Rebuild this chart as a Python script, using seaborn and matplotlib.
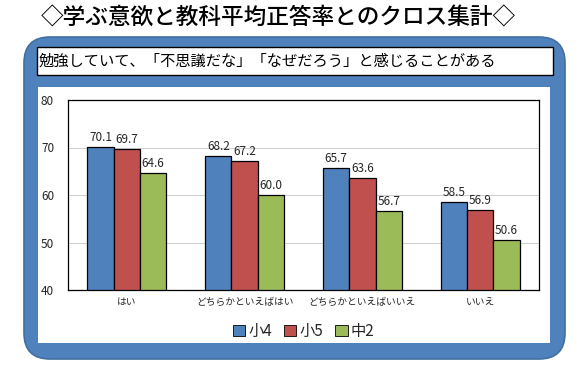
import matplotlib
matplotlib.use('AGG')
import matplotlib.pyplot as plt
from matplotlib.patches import FancyBboxPatch, Rectangle
import seaborn as sns
import pandas as pd
import numpy as np

# data
categories = ['はい', 'どちらかといえばはい', 'どちらかといえばいいえ', 'いいえ']
groups = ['小4', '小5', '中2']
sho4 = [70.1, 68.2, 65.7, 58.5]
sho5 = [69.7, 67.2, 63.6, 56.9]
chu2 = [64.6, 60.0, 56.7, 50.6]
yticks = [40, 50, 60, 70, 80]

TITLE = '◇学ぶ意欲と教科平均正答率とのクロス集計◇'
SUBTITLE = '勉強していて、「不思議だな」「なぜだろう」と感じることがある'
COLORS = ['#4F81BD', '#C0504D', '#9BBB59']

df = pd.DataFrame({
    'cat': categories * 3,
    'grp': [g for g in groups for _ in categories],
    'val': sho4 + sho5 + chu2,
})

sns.set_theme(style='white')
plt.rcParams['font.family'] = ['Noto Sans CJK JP', 'DejaVu Sans']

W, H = 585, 373
fig = plt.figure(figsize=(W / 100, H / 100), dpi=100)
fig.patch.set_facecolor('white')

# background layer in pixel units
bg = fig.add_axes([0, 0, 1, 1])
bg.set_xlim(0, W)
bg.set_ylim(H, 0)
bg.axis('off')
bg.add_patch(FancyBboxPatch((24, 37), 541, 322,
                            boxstyle='round,pad=0,rounding_size=26',
                            fc='#4F81BD', ec='#41709f', lw=1.2))
bg.add_patch(Rectangle((37, 47), 516, 28, fc='white', ec='black', lw=1))
bg.add_patch(Rectangle((38, 87), 512, 256, fc='white', ec='none'))
bg.text(278, 18, TITLE, ha='center', va='center', fontsize=16.3,
        fontweight='medium', color='black')
bg.text(39, 61.5, SUBTITLE, ha='left', va='center', fontsize=11, color='black')

# chart
ax = fig.add_axes([68 / W, 1 - 290 / H, (539 - 68) / W, (290 - 100) / H])
sns.barplot(data=df, x='cat', y='val', hue='grp', palette=COLORS, ax=ax,
            width=0.67, edgecolor='black', linewidth=0.9, saturation=1)
ax.set_ylim(40, 80)
ax.set_yticks(yticks)
ax.set_yticklabels([str(t) for t in yticks], fontsize=8.5)
ax.tick_params(axis='y', length=0, pad=10)
ax.tick_params(axis='x', length=0, labelsize=7, pad=5)
ax.set_xlabel('')
ax.set_ylabel('')
ax.grid(axis='y', color='#d0d0d0', lw=0.8)
ax.set_axisbelow(True)
for s in ax.spines.values():
    s.set_visible(True)
    s.set_color('black')
    s.set_linewidth(0.9)

for cont in ax.containers:
    ax.bar_label(cont, fmt='%.1f', fontsize=8.5, padding=2)

leg = ax.legend(loc='upper center', bbox_to_anchor=(0.5, -0.10), ncol=3,
                frameon=False, fontsize=11, handlelength=0.8, handleheight=0.8,
                handletextpad=0.2, columnspacing=0.8)
for p in leg.get_patches():
    p.set_edgecolor('black')
    p.set_linewidth(0.6)

plt.savefig('out.png', dpi=100)
